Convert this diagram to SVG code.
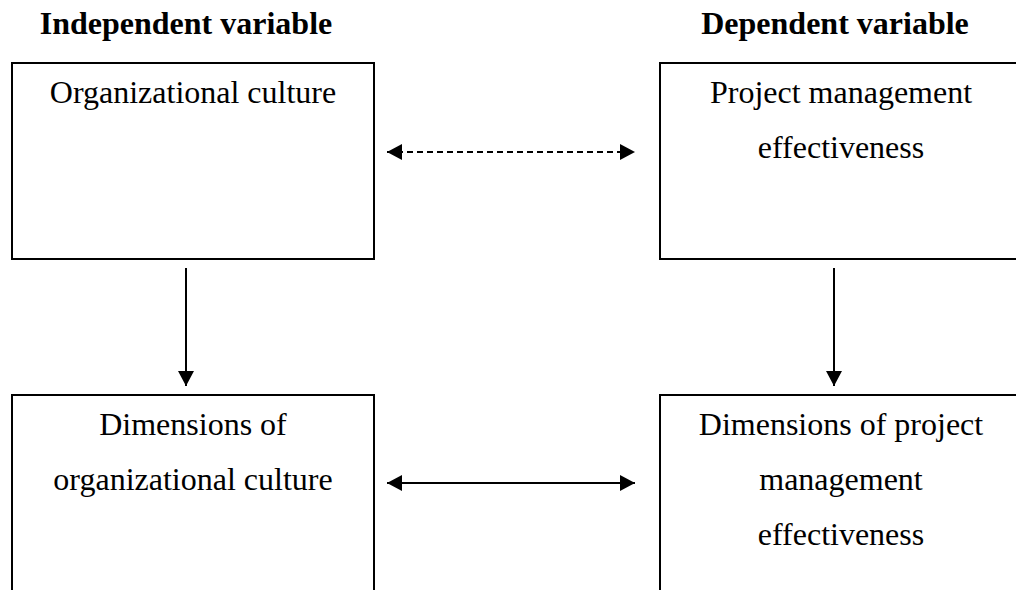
<svg xmlns="http://www.w3.org/2000/svg" width="1016" height="590" viewBox="0 0 1016 590">
<style>
.box{fill:#fff;stroke:#000;stroke-width:2}
.t{font-family:"Liberation Serif","Times New Roman",serif;font-size:32px;fill:#000;text-anchor:middle}
.h{font-weight:bold}
.c{stroke:#000;stroke-width:2;fill:none}
.d{stroke-dasharray:6,4}
</style>
<defs>
<marker id="ah" viewBox="0 0 15 16" refX="15" refY="8" markerWidth="15" markerHeight="16" markerUnits="userSpaceOnUse" orient="auto-start-reverse">
<path d="M0,0 L15,8 L0,16 Z" fill="#000"/>
</marker>
</defs>
<rect width="1016" height="590" fill="#fff"/>
<g id="headers">
<text class="t h" x="186" y="34">Independent variable</text>
<text class="t h" x="835" y="34">Dependent variable</text>
</g>
<g id="node-org-culture">
<rect class="box" x="12" y="63" width="362" height="196"/>
<text class="t" x="193" y="103">Organizational culture</text>
</g>
<g id="node-pm-effectiveness">
<rect class="box" x="660" y="63" width="363" height="196"/>
<text class="t" x="841" y="103">Project management</text>
<text class="t" x="841" y="158">effectiveness</text>
</g>
<g id="node-dim-org-culture">
<rect class="box" x="12" y="395" width="362" height="210"/>
<text class="t" x="193" y="435">Dimensions of</text>
<text class="t" x="193" y="490">organizational culture</text>
</g>
<g id="node-dim-pm-effectiveness">
<rect class="box" x="660" y="395" width="363" height="210"/>
<text class="t" x="841" y="435">Dimensions of project</text>
<text class="t" x="841" y="490">management</text>
<text class="t" x="841" y="545">effectiveness</text>
</g>
<g id="connectors">
<line class="c d" x1="387" y1="152" x2="635" y2="152" marker-start="url(#ah)" marker-end="url(#ah)"/>
<line class="c" x1="387" y1="483" x2="635" y2="483" marker-start="url(#ah)" marker-end="url(#ah)"/>
<line class="c" x1="186" y1="268" x2="186" y2="386" marker-end="url(#ah)"/>
<line class="c" x1="834" y1="268" x2="834" y2="386" marker-end="url(#ah)"/>
</g>
</svg>
